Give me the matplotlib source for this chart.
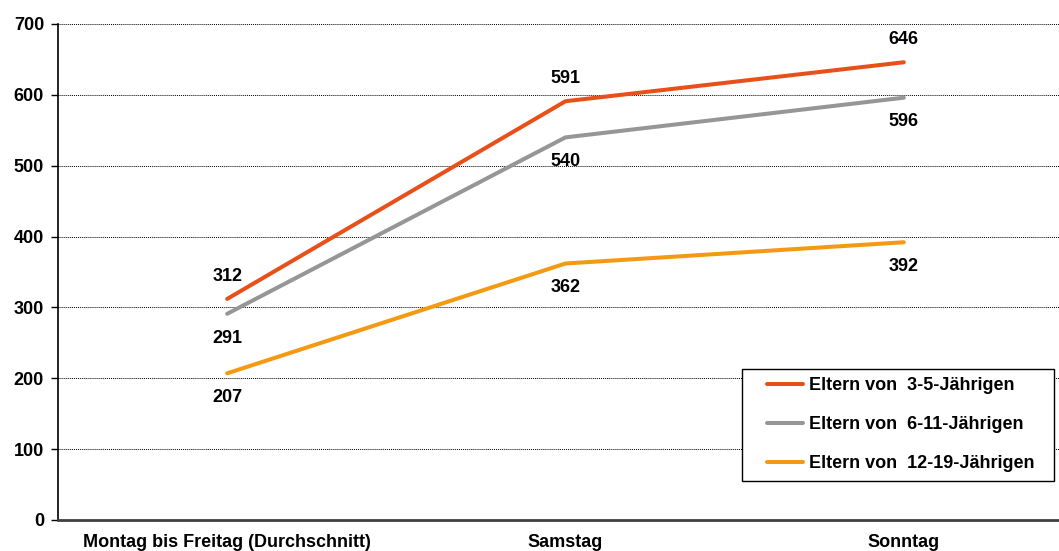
import matplotlib
matplotlib.use("Agg")
import matplotlib.pyplot as plt
from matplotlib.patches import Rectangle

plt.rcParams['font.family'] = ['Liberation Sans', 'DejaVu Sans']
plt.rcParams['font.weight'] = 'bold'

categories = ["Montag bis Freitag (Durchschnitt)", "Samstag", "Sonntag"]
series_names = ["Eltern von  3-5-Jährigen", "Eltern von  6-11-Jährigen", "Eltern von  12-19-Jährigen"]
vals_3_5 = [312, 591, 646]
vals_6_11 = [291, 540, 596]
vals_12_19 = [207, 362, 392]
colors = ["#E8501A", "#969696", "#F39A12"]
label_above = [[True, True, True], [False, False, False], [False, False, False]]
y_ticks = [0, 100, 200, 300, 400, 500, 600, 700]

FS = 13
W, H = 1059, 551
fig = plt.figure(figsize=(W / 100, H / 100), dpi=100)
ax = fig.add_axes([58 / W, 31 / H, (1073 - 58) / W, (520 - 24) / H])

x = list(range(len(categories)))
lines = []
for vals, c, name, above in zip([vals_3_5, vals_6_11, vals_12_19], colors, series_names, label_above):
    ln, = ax.plot(x, vals, color=c, lw=2.9, solid_capstyle='round', label=name, zorder=3)
    lines.append(ln)
    for xi, v, up in zip(x, vals, above):
        ax.annotate(str(v), (xi, v), xytext=(0, 16.5 if up else -17.5), textcoords='offset points',
                    ha='center', va='center', fontsize=FS, fontweight='bold', color='black')

ax.set_xlim(-0.5, 2.5)
ax.set_ylim(0, 700)
ax.set_yticks(y_ticks)
ax.set_yticklabels([str(t) for t in y_ticks], fontsize=FS, fontweight='bold')
ax.set_xticks(x)
ax.set_xticklabels(categories, fontsize=FS, fontweight='bold')
ax.tick_params(axis='x', length=0, pad=10)
ax.tick_params(axis='y', length=5, width=1, direction='out', pad=5)

ax.grid(axis='y', color='black', linestyle=(0, (1, 1)), linewidth=0.7)
ax.set_axisbelow(True)
ax.spines['top'].set_visible(False)
ax.spines['right'].set_visible(False)
ax.spines['left'].set_color('black')
ax.spines['left'].set_linewidth(1.2)
ax.spines['bottom'].set_color('#404040')
ax.spines['bottom'].set_linewidth(2)

# legend frame drawn separately so the entries can sit with a wider left margin
fig.add_artist(Rectangle((742 / W, (H - 481) / H), (1054 - 742) / W, (481 - 369) / H,
                         transform=fig.transFigure, facecolor='white', edgecolor='black',
                         linewidth=1.0, zorder=4))
leg = fig.legend(handles=lines, loc='upper left',
                 bbox_to_anchor=(767 / W, (H - 377) / H),
                 fontsize=FS, frameon=False,
                 handlelength=2.0, handletextpad=0.3, labelspacing=1.22,
                 borderpad=0, borderaxespad=0)
leg.set_zorder(5)
for t in leg.get_texts():
    t.set_fontweight('bold')
for h in leg.legend_handles:
    h.set_linewidth(2.9)

fig.savefig("out.png", dpi=100)
